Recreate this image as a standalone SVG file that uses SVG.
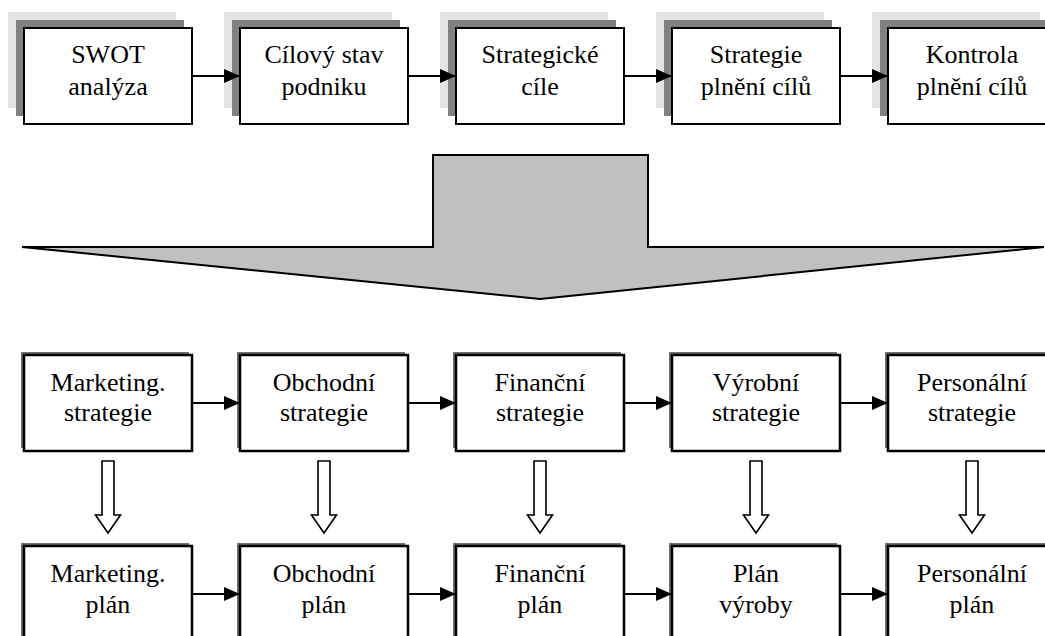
<svg xmlns="http://www.w3.org/2000/svg" width="1045" height="636" viewBox="0 0 1045 636">
<style>
text{font-family:"Liberation Serif","Times New Roman",serif;font-size:26px;fill:#000;text-anchor:middle}
.box{fill:#fff;stroke:#000;stroke-width:2}
.box2{fill:#fff;stroke:#000;stroke-width:2.5}
.sh1{fill:#e3e3e3}
.sh2{fill:#808080}
.sh3{fill:#6e6e6e}
.ln{stroke:#000;stroke-width:2;fill:none}
.va{fill:#fff;stroke:#000;stroke-width:1.6}
</style>
<defs>
<marker id="ah" markerWidth="16" markerHeight="14" refX="16" refY="7" orient="auto" markerUnits="userSpaceOnUse">
<path d="M0,0 L16,7 L0,14 Z" fill="#000"/>
</marker>
</defs>

<g id="big-arrow">
<path d="M433,155 L648,155 L648,247 L1044,247 L540,299 L22,247 L433,247 Z" fill="#c0c0c0" stroke="#000" stroke-width="2"/>
</g>

<g id="n-swot">
<rect class="sh1" x="8" y="12" width="168" height="96"/>
<rect class="sh2" x="16" y="20" width="168" height="96"/>
<rect class="box" x="24" y="28" width="168" height="96"/>
<text x="108" y="63">SWOT</text><text x="108" y="95">analýza</text>
</g>
<g id="n-cilovy">
<rect class="sh1" x="224" y="12" width="168" height="96"/>
<rect class="sh2" x="232" y="20" width="168" height="96"/>
<rect class="box" x="240" y="28" width="168" height="96"/>
<text x="324" y="63">Cílový stav</text><text x="324" y="95">podniku</text>
</g>
<g id="n-strat-cile">
<rect class="sh1" x="440" y="12" width="168" height="96"/>
<rect class="sh2" x="448" y="20" width="168" height="96"/>
<rect class="box" x="456" y="28" width="168" height="96"/>
<text x="540" y="63">Strategické</text><text x="540" y="95">cíle</text>
</g>
<g id="n-strat-plneni">
<rect class="sh1" x="656" y="12" width="168" height="96"/>
<rect class="sh2" x="664" y="20" width="168" height="96"/>
<rect class="box" x="672" y="28" width="168" height="96"/>
<text x="756" y="63">Strategie</text><text x="756" y="95">plnění cílů</text>
</g>
<g id="n-kontrola">
<rect class="sh1" x="872" y="12" width="168" height="96"/>
<rect class="sh2" x="880" y="20" width="168" height="96"/>
<rect class="box" x="888" y="28" width="168" height="96"/>
<text x="972" y="63">Kontrola</text><text x="972" y="95">plnění cílů</text>
</g>

<g id="n-mkt-strat">
<rect class="sh3" x="21" y="352" width="168" height="96"/>
<rect class="box2" x="24" y="355" width="168" height="96"/>
<text x="108" y="391">Marketing.</text><text x="108" y="421">strategie</text>
</g>
<g id="n-obch-strat">
<rect class="sh3" x="237" y="352" width="168" height="96"/>
<rect class="box2" x="240" y="355" width="168" height="96"/>
<text x="324" y="391">Obchodní</text><text x="324" y="421">strategie</text>
</g>
<g id="n-fin-strat">
<rect class="sh3" x="453" y="352" width="168" height="96"/>
<rect class="box2" x="456" y="355" width="168" height="96"/>
<text x="540" y="391">Finanční</text><text x="540" y="421">strategie</text>
</g>
<g id="n-vyr-strat">
<rect class="sh3" x="669" y="352" width="168" height="96"/>
<rect class="box2" x="672" y="355" width="168" height="96"/>
<text x="756" y="391">Výrobní</text><text x="756" y="421">strategie</text>
</g>
<g id="n-pers-strat">
<rect class="sh3" x="885" y="352" width="168" height="96"/>
<rect class="box2" x="888" y="355" width="168" height="96"/>
<text x="972" y="391">Personální</text><text x="972" y="421">strategie</text>
</g>

<g id="n-mkt-plan">
<rect class="sh3" x="21" y="543" width="168" height="96"/>
<rect class="box2" x="24" y="546" width="168" height="96"/>
<text x="108" y="582">Marketing.</text><text x="108" y="613">plán</text>
</g>
<g id="n-obch-plan">
<rect class="sh3" x="237" y="543" width="168" height="96"/>
<rect class="box2" x="240" y="546" width="168" height="96"/>
<text x="324" y="582">Obchodní</text><text x="324" y="613">plán</text>
</g>
<g id="n-fin-plan">
<rect class="sh3" x="453" y="543" width="168" height="96"/>
<rect class="box2" x="456" y="546" width="168" height="96"/>
<text x="540" y="582">Finanční</text><text x="540" y="613">plán</text>
</g>
<g id="n-vyr-plan">
<rect class="sh3" x="669" y="543" width="168" height="96"/>
<rect class="box2" x="672" y="546" width="168" height="96"/>
<text x="756" y="582">Plán</text><text x="756" y="613">výroby</text>
</g>
<g id="n-pers-plan">
<rect class="sh3" x="885" y="543" width="168" height="96"/>
<rect class="box2" x="888" y="546" width="168" height="96"/>
<text x="972" y="582">Personální</text><text x="972" y="613">plán</text>
</g>

<g id="connectors">
<line class="ln" x1="192" y1="76" x2="240" y2="76" marker-end="url(#ah)"/>
<line class="ln" x1="408" y1="76" x2="456" y2="76" marker-end="url(#ah)"/>
<line class="ln" x1="624" y1="76" x2="672" y2="76" marker-end="url(#ah)"/>
<line class="ln" x1="840" y1="76" x2="888" y2="76" marker-end="url(#ah)"/>
<line class="ln" x1="192" y1="403" x2="240" y2="403" marker-end="url(#ah)"/>
<line class="ln" x1="408" y1="403" x2="456" y2="403" marker-end="url(#ah)"/>
<line class="ln" x1="624" y1="403" x2="672" y2="403" marker-end="url(#ah)"/>
<line class="ln" x1="840" y1="403" x2="888" y2="403" marker-end="url(#ah)"/>
<line class="ln" x1="192" y1="594" x2="240" y2="594" marker-end="url(#ah)"/>
<line class="ln" x1="408" y1="594" x2="456" y2="594" marker-end="url(#ah)"/>
<line class="ln" x1="624" y1="594" x2="672" y2="594" marker-end="url(#ah)"/>
<line class="ln" x1="840" y1="594" x2="888" y2="594" marker-end="url(#ah)"/>
<path class="va" d="M102,461 L114,461 L114,515 L120.5,515 L108,533 L95.5,515 L102,515 Z"/>
<path class="va" d="M318,461 L330,461 L330,515 L336.5,515 L324,533 L311.5,515 L318,515 Z"/>
<path class="va" d="M534,461 L546,461 L546,515 L552.5,515 L540,533 L527.5,515 L534,515 Z"/>
<path class="va" d="M750,461 L762,461 L762,515 L768.5,515 L756,533 L743.5,515 L750,515 Z"/>
<path class="va" d="M966,461 L978,461 L978,515 L984.5,515 L972,533 L959.5,515 L966,515 Z"/>
</g>
</svg>
